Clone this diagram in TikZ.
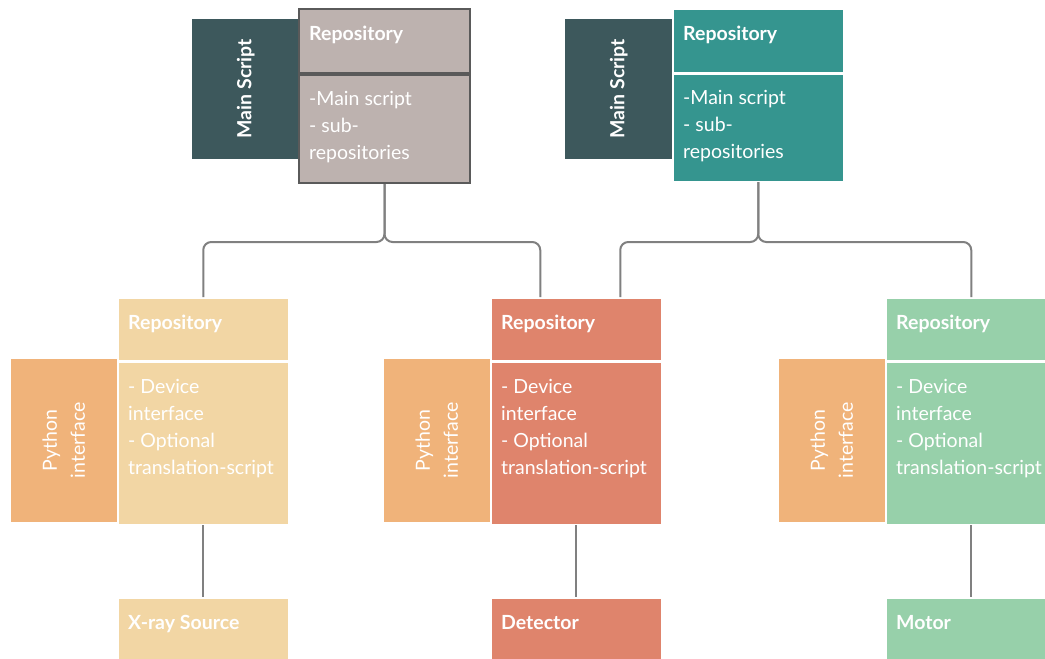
\documentclass[tikz,border=0pt]{standalone}
\usepackage{fontspec}
\setmainfont{Lato}
\usetikzlibrary{positioning}

\definecolor{cSlate}{HTML}{3D585C}
\definecolor{cTaupe}{HTML}{BDB2AF}
\definecolor{cTeal}{HTML}{35958F}
\definecolor{cSand}{HTML}{F2D6A4}
\definecolor{cApricot}{HTML}{F0B37A}
\definecolor{cSalmon}{HTML}{DF846C}
\definecolor{cMint}{HTML}{97D0AA}
\definecolor{cLink}{HTML}{808080}
\definecolor{cEdge}{HTML}{5A5A5A}

\tikzset{
  box/.style={rectangle, inner sep=0pt, anchor=north west, draw=white, line width=1.5pt},
  sidebox/.style={box, minimum width=108, minimum height=#1},
  repobox/.style={box, minimum width=171, minimum height=#1},
  headtext/.style={anchor=base west, inner sep=0pt, text=white, font=\fontsize{19.5}{27}\selectfont\bfseries},
  bodytext/.style={anchor=north west, inner sep=0pt, text=white, align=left, font=\fontsize{19.5}{27}\selectfont},
  sidetext/.style={rotate=90, inner sep=0pt, text=white, align=center, font=\fontsize{19.5}{28}\selectfont},
  link/.style={draw=cLink, line width=2pt, rounded corners=8}
}

\begin{document}
\begin{tikzpicture}[x=1pt,y=-1pt]
\useasboundingbox (0,0) rectangle (1045,659);
\clip (0,0) rectangle (1045,659);

% top level: main script repositories
\node[sidebox=140, fill=cSlate, draw=none] (tlside) at (191,18) {};
\node[repobox=64, fill=cTaupe, draw=cEdge, line width=2pt] (tlhead) at (298,8) {};
\node[repobox=108, fill=cTaupe, draw=cEdge, line width=2pt] (tlbody) at (tlhead.south west) {};
\node[sidetext, font=\fontsize{19.5}{27}\selectfont\bfseries] at (tlside.center) {Main Script};
\node[headtext] at ([shift={(11,32)}]tlhead.north west) {Repository};
\node[bodytext] at ([shift={(11,17)}]tlbody.north west) {-Main script\\- sub-\\repositories};

\node[sidebox=140, fill=cSlate, draw=none] (trside) at (564,18) {};
\node[repobox=64, fill=cTeal] (trhead) at (672,8) {};
\node[repobox=107, fill=cTeal] (trbody) at (trhead.south west) {};
\node[sidetext, font=\fontsize{19.5}{27}\selectfont\bfseries] at (trside.center) {Main Script};
\node[headtext] at ([shift={(11,32)}]trhead.north west) {Repository};
\node[bodytext] at ([shift={(11,17)}]trbody.north west) {-Main script\\- sub-\\repositories};

% device level
\foreach \x/\col/\nm/\dev in {117/cSand/xray/X-ray Source, 490/cSalmon/det/Detector, 885/cMint/mot/Motor}{
  \node[sidebox=165, fill=cApricot] (\nm side) at (\x-108,357) {};
  \node[repobox=63, fill=\col] (\nm head) at (\x,297) {};
  \node[repobox=162, fill=\col] (\nm body) at (\nm head.south west) {};
  \node[repobox=80, fill=\col] (\nm) at (\x,597) {};
  \node[sidetext] at (\nm side.center) {Python\\interface};
  \node[headtext] at ([shift={(11,32)}]\nm head.north west) {Repository};
  \node[bodytext] at ([shift={(11,18)}]\nm body.north west) {- Device\\interface\\- Optional\\translation-script};
  \node[headtext] at ([shift={(11,32)}]\nm.north west) {\dev};
  \draw[link] (\nm body.south) -- (\nm.north);
}

\draw[link] (tlbody.south) -- ++(0,58) -| (xrayhead.north);
\draw[link] (tlbody.south) -- ++(0,58) -| ([xshift=-36]dethead.north);
\draw[link] (trbody.south) -- ++(0,60) -| ([xshift=44]dethead.north);
\draw[link] (trbody.south) -- ++(0,60) -| (mothead.north);
\end{tikzpicture}
\end{document}
